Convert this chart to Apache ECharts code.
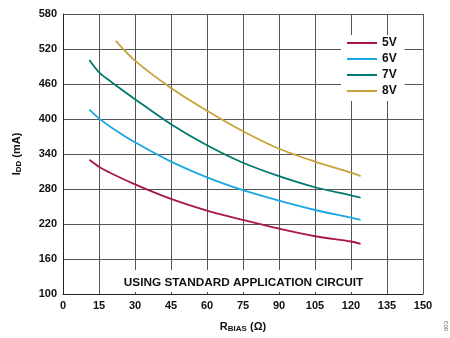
<!DOCTYPE html>
<html>
<head>
<meta charset="utf-8">
<script src="https://cdn.jsdelivr.net/npm/echarts@6/dist/echarts.min.js"></script>
<style>html,body{margin:0;padding:0;background:#fff}#c{width:450px;height:338px}</style>
</head>
<body>
<div id="c"></div>
<script>
const rLow = [11, 15, 20, 30, 45, 60, 75, 90, 105, 120, 124];
const i5V = [330, 318, 307, 288, 263, 243, 227, 212, 199, 190, 186];
const i6V = [416, 401, 386, 360, 327, 300, 278, 260, 244, 231, 227];
const i7V = [501, 480, 464, 434, 391, 355, 325, 302, 283, 269, 265];
const r8V = [22, 30, 45, 60, 75, 90, 105, 120, 124];
const i8V = [534, 500, 453, 414, 379, 349, 327, 308, 302];
const seriesNames = ['5V', '6V', '7V', '8V'];
const colors = ['#A8174A', '#19A8E2', '#00796F', '#C9A23A'];
const xTicks = [0, 15, 30, 45, 60, 75, 90, 105, 120, 135, 150];
const yTicks = [100, 160, 220, 280, 340, 400, 460, 520, 580];
const noteText = 'USING STANDARD APPLICATION CIRCUIT';

const font = '"Liberation Sans", Arial, sans-serif';
const pair = (xs, ys) => xs.map((x, i) => [x, ys[i]]);
const data = [pair(rLow, i5V), pair(rLow, i6V), pair(rLow, i7V), pair(r8V, i8V)];

const chart = echarts.init(document.getElementById('c'), null, {renderer: 'canvas', width: 450, height: 338});
chart.setOption({
  animation: false,
  backgroundColor: '#fff',
  grid: {left: 63, top: 14, width: 360, height: 286},
  xAxis: {
    type: 'value', min: xTicks[0], max: xTicks[xTicks.length - 1], interval: 15,
    axisLine: {show: true, lineStyle: {color: '#222', width: 1}},
    axisTick: {show: false},
    splitLine: {show: true, lineStyle: {color: '#555', width: 1}},
    axisLabel: {color: '#111', fontFamily: font, fontWeight: 'bold', fontSize: 11, margin: 6},
    name: 'R{sub|BIAS} (Ω)', nameLocation: 'middle', nameGap: 26,
    nameTextStyle: {color: '#111', fontFamily: font, fontWeight: 'bold', fontSize: 11,
      rich: {sub: {fontFamily: font, fontWeight: 'bold', fontSize: 8, verticalAlign: 'bottom', padding: [5, 0, 0, 0]}}}
  },
  yAxis: {
    type: 'value', min: yTicks[0], max: yTicks[yTicks.length - 1], interval: 60,
    axisLine: {show: true, lineStyle: {color: '#222', width: 1}},
    axisTick: {show: false},
    splitLine: {show: true, lineStyle: {color: '#555', width: 1}},
    axisLabel: {color: '#111', fontFamily: font, fontWeight: 'bold', fontSize: 11, margin: 6},
    name: 'I{sub|DD} (mA)', nameLocation: 'middle', nameGap: 40, nameRotate: 90,
    nameTextStyle: {color: '#111', fontFamily: font, fontWeight: 'bold', fontSize: 11,
      rich: {sub: {fontFamily: font, fontWeight: 'bold', fontSize: 8, verticalAlign: 'bottom', padding: [5, 0, 0, 0]}}}
  },
  legend: {
    orient: 'vertical', left: 341, top: 35,
    backgroundColor: '#fff', padding: [2, 8, 4, 6],
    itemWidth: 30, itemHeight: 2, itemGap: 4,
    icon: 'rect',
    textStyle: {color: '#111', fontFamily: font, fontWeight: 'bold', fontSize: 12},
    data: seriesNames
  },
  graphic: [
    {type: 'rect', shape: {x: 118, y: 270, width: 252, height: 22}, style: {fill: '#fff'}, z: 10},
    {type: 'text', x: 243.5, y: 282.5, z: 11,
      style: {text: noteText, fill: '#111', font: 'bold 11.8px ' + font, textAlign: 'center', textVerticalAlign: 'middle'}},
    {type: 'text', x: 446, y: 326, rotation: Math.PI / 2, z: 11,
      style: {text: '003', fill: '#666', font: '6px ' + font, textAlign: 'center', textVerticalAlign: 'middle'}}
  ],
  series: seriesNames.map((n, k) => ({
    name: n, type: 'line', data: data[k], smooth: 0.3, showSymbol: false, symbol: 'none',
    lineStyle: {color: colors[k], width: 1.8}, itemStyle: {color: colors[k]}, z: 5
  }))
});
</script>
</body>
</html>
